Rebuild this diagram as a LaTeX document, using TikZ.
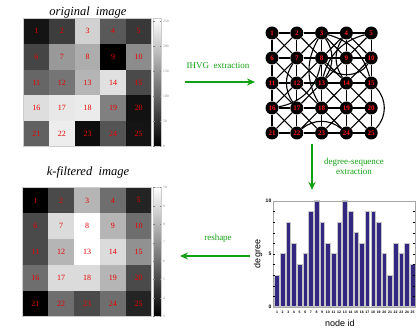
\documentclass[tikz,border=0pt]{standalone}
\usepackage{fontspec}
\setmainfont{Liberation Serif}
\newfontfamily\sansf{Liberation Sans}
\usetikzlibrary{arrows.meta,backgrounds}
\definecolor{grn}{RGB}{20,160,20}
\definecolor{barblue}{RGB}{50,40,130}
\definecolor{nred}{RGB}{235,0,0}
\definecolor{gred}{RGB}{255,20,20}
\tikzset{
 cell/.style={draw=none, minimum size=25.8pt, inner sep=0pt, text=nred, font=\fontsize{8}{9}\selectfont},
 gnode/.style={circle, fill=black, minimum size=13pt, inner sep=0pt, text=gred, font=\bfseries\fontsize{7}{7}\selectfont},
 gedge/.style={line width=1.1pt},
 flow/.style={-{Stealth[length=8pt,width=7pt]}, line width=1.4pt, draw=grn},
 flowlabel/.style={text=grn, font=\fontsize{9}{10}\selectfont, align=center},
 titletext/.style={font=\itshape\fontsize{12.5}{14}\selectfont},
 cbar/.style={minimum width=8pt, minimum height=128pt, inner sep=0pt, top color=white, bottom color=black, draw=gray!40, line width=0.6pt},
 cbtick/.style={text=gray, font=\fontsize{3.6}{4}\selectfont, anchor=west, inner sep=0.5pt},
 bar/.style={fill=barblue, draw=gray!45, line width=0.5pt, minimum width=4.6pt, inner sep=0pt, anchor=south},
 ticklab/.style={font=\sansf\bfseries\fontsize{3.5}{4}\selectfont, inner sep=0pt},
 ylab/.style={font=\sansf\bfseries\fontsize{5}{5}\selectfont, anchor=east, inner sep=0.5pt},
 axlab/.style={font=\sansf\fontsize{9}{10}\selectfont},
}
\begin{document}
\begin{tikzpicture}[x=1pt,y=-1pt]
\useasboundingbox (0,0) rectangle (416,336);

% ---------- original image ----------
\node[titletext] (t1) at (88,12) {original\ \ image};
\foreach \v [count=\i from 1] in {8,24,82,35,22, 27,60,68,0,55, 40,46,71,88,29, 87,91,92,50,7, 38,93,5,33,8} {
  \pgfmathtruncatemacro\r{(\i-1)/5}
  \pgfmathtruncatemacro\c{\i-1-5*\r}
  \node[cell, fill=white!\v!black] (o\i) at ({23.5+25.6*(\c+0.5)},{18.5+25.6*(\r+0.5)}) {\i};
}
\draw[gray!40, line width=0.8pt] (o1.north west) rectangle (o25.south east);
\node[cbar] (cb1) at (157,82.5) {};
\foreach \v in {0,50,...,250} {
  \pgfmathsetmacro\yy{146.5-\v/255*128}
  \draw[gray, line width=0.3pt] (153,\yy) -- ++(1.5,0);
  \draw[gray, line width=0.3pt] (161,\yy) -- ++(-1.5,0);
  \node[cbtick] (cbl\v) at (162.5,\yy) {\v};
}

% ---------- k-filtered image ----------
\node[titletext] (t2) at (88,172) {k-filtered\ \ image};
\foreach \v [count=\i from 1] in {0,29,71,43,14, 29,86,100,71,43, 29,71,100,86,57, 43,86,86,71,29, 0,43,29,43,14} {
  \pgfmathtruncatemacro\r{(\i-1)/5}
  \pgfmathtruncatemacro\c{\i-1-5*\r}
  \node[cell, fill=white!\v!black] (k\i) at ({22.5+25.8*(\c+0.5)},{187.5+25.8*(\r+0.5)}) {\i};
}
\draw[gray!40, line width=0.8pt] (k1.north west) rectangle (k25.south east);
\node[cbar, minimum height=129pt] (cb2) at (157,252) {};
\foreach \v in {3,...,10} {
  \pgfmathsetmacro\yy{316.5-(\v-3)/7*129}
  \draw[gray, line width=0.3pt] (153,\yy) -- ++(1.5,0);
  \draw[gray, line width=0.3pt] (161,\yy) -- ++(-1.5,0);
  \node[cbtick] (cbk\v) at (162.5,\yy) {\v};
}

% ---------- graph ----------
\foreach \i in {1,...,25} {
  \pgfmathtruncatemacro\r{(\i-1)/5}
  \pgfmathtruncatemacro\c{\i-1-5*\r}
  \node[gnode] (g\i) at ({272+24.8*\c},{33+25*\r}) {\i};
}
\begin{scope}[on background layer]
  \foreach \r in {0,...,4} {
    \foreach \c in {1,...,4} {
      \pgfmathtruncatemacro\a{5*\r+\c}
      \pgfmathtruncatemacro\b{\a+1}
      \draw[gedge] (g\a) -- (g\b);
    }
  }
  \foreach \a in {1,...,20} {
    \pgfmathtruncatemacro\b{\a+5}
    \draw[gedge] (g\a) -- (g\b);
  }
  \foreach \r in {0,...,3} {
    \foreach \c in {1,...,4} {
      \pgfmathtruncatemacro\a{5*\r+\c}
      \pgfmathtruncatemacro\b{\a+6}
      \pgfmathtruncatemacro\p{\a+1}
      \pgfmathtruncatemacro\q{\a+5}
      \draw[gedge] (g\a) -- (g\b);
      \draw[gedge] (g\p) -- (g\q);
    }
  }
  % long-range visibility links
  \draw[gedge] (g3) to[bend left=35] (g13);
  \draw[gedge] (g3) to[bend right=30] (g18);
  \draw[gedge] (g3) to[bend left=30] (g15);
  \draw[gedge] (g5) to[bend right=30] (g13);
  \draw[gedge] (g4) to[bend right=35] (g14);
  \draw[gedge] (g8) to[bend right=60] (g10);
  \draw[gedge] (g16) to[bend right=35] (g8);
  \draw[gedge] (g7) to[bend right=35] (g17);
  \draw[gedge] (g15) to[bend left=45] (g25);
  \draw[gedge] (g22) to[bend left=40] (g24);
\end{scope}

% ---------- degree chart ----------
\foreach \d [count=\i from 1] in {3,5,8,6,4,5,9,10,8,6,5,8,10,9,7,6,9,9,8,5,3,6,5,6,4} {
  \node[bar, minimum height={10.6*\d}] (b\i) at ({277+5.65*(\i-1)},307) {};
  \node[ticklab] (xl\i) at ({277+5.65*(\i-1)},312.5) {\i};
}
\draw[gray!70, line width=0.8pt] (273,201) rectangle (415,307);
\foreach \d in {1,...,9} {
  \draw[black, line width=0.3pt] (273,{307-10.6*\d}) -- ++(2,0);
  \draw[black, line width=0.3pt] (415,{307-10.6*\d}) -- ++(-2,0);
}
\node[ylab] (y10) at (272,201) {10};
\node[ylab] (y5) at (272,254) {5};
\node[ylab] (y0) at (272,307) {0};
\node[axlab, rotate=90] (ylabel) at (258,254) {degree};
\node[axlab] (xlabel) at (340,323) {node id};

% ---------- arrows ----------
\coordinate (a1s) at (185,82);
\coordinate (a1e) at (255,82);
\draw[flow] (a1s) -- (a1e);
\node[flowlabel] (l1) at (218,66) {IHVG\ \ extraction};

\coordinate (a2s) at (312,144);
\coordinate (a2e) at (312,190);
\draw[flow] (a2s) -- (a2e);
\node[flowlabel] (l2) at (354,166) {degree-sequence\\extraction};

\coordinate (a3s) at (250,256);
\coordinate (a3e) at (180,256);
\draw[flow] (a3s) -- (a3e);
\node[flowlabel] (l3) at (218,238) {reshape};
\end{tikzpicture}
\end{document}
